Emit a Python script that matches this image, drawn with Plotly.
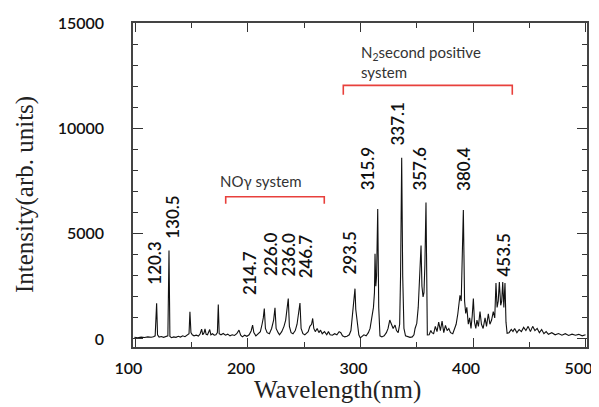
import plotly.graph_objects as go

# ---- spectrum data ----
wavelength = [
    99, 102, 105, 108, 111, 114, 116, 117.5, 118.8, 119.6,
    121, 123, 125, 127, 128.8, 129.8, 130.6, 132, 134, 136,
    138, 140, 142, 144, 146, 147.6, 148.4, 149.3, 150.5, 152,
    154, 156, 157.5, 158.8, 159.8, 161, 161.8, 162.8, 164, 165,
    166, 167, 168.5, 170, 171.5, 172.8, 173.6, 174.4, 176, 178,
    180, 182, 184, 186, 188, 190, 192, 193.5, 195, 197,
    199, 201, 202.8, 204.1, 205.2, 207, 209, 211, 212.5, 213.6,
    214.5, 215.5, 217, 219, 221, 222.8, 224.0, 225.0, 226.8, 228,
    230, 232, 233.5, 234.5, 235.8, 236.8, 238.3, 240, 242, 243.6,
    244.5, 245.5, 246.2, 247.2, 248.8, 250.5, 252, 253.5, 255, 256.5,
    257.5, 258.5, 259.8, 261.5, 263, 264.5, 266, 268, 270, 271.5,
    273, 275, 277, 279, 281, 282.5, 284, 286, 288, 290,
    291.5, 292.5, 293.3, 294, 295.1, 295.8, 296.6, 297.5, 298.5, 299.8,
    301, 303, 305, 307, 308.5, 309.5, 310.5, 311.5, 312.4, 312.9,
    313.6, 314.3, 315.3, 316.2, 317.3, 319, 321, 323, 324.5, 326,
    327.5, 329, 330.7, 332, 333.5, 334.8, 335.6, 336.6, 337.5, 338.6,
    340, 342, 344, 346, 347.5, 348.5, 350, 351.3, 352.2, 353,
    353.8, 354.6, 355.6, 356.4, 357.2, 358.2, 359.4, 361, 362.5, 363.5,
    365, 366.5, 368, 369.5, 371, 372.5, 374, 375.5, 377, 378.5,
    380, 382, 383.5, 385, 386.5, 387.5, 388.4, 389.5, 390.4, 391.4,
    392.5, 393.5, 394.5, 395.8, 397, 398.2, 399.3, 400.3, 401.3, 402.5,
    403.5, 404.8, 406.2, 407.5, 409, 410.7, 412, 413.6, 415, 416.5,
    418, 419.3, 420.4, 421.4, 422.4, 423.4, 424.6, 425.5, 426.4, 427.4,
    428.4, 429.3, 430.3, 432, 434, 435.5, 437, 439, 441, 443,
    445, 447, 449, 451, 453, 455, 457, 459, 461, 463,
    465, 467, 470, 473, 476, 479, 482, 485, 488, 491,
    494, 497, 500,
]
intensity = [
    80, 60, 90, 70, 100, 80, 110, 150, 1690, 200,
    90, 120, 80, 100, 150, 4200, 120, 60, 100, 80,
    130, 90, 150, 110, 170, 250, 1290, 300, 200, 150,
    180, 140, 250, 470, 200, 300, 480, 220, 200, 350,
    450, 200, 250, 180, 200, 300, 1640, 250, 200, 260,
    180, 230, 150, 200, 170, 250, 420, 180, 100, 180,
    130, 200, 380, 660, 300, 150, 250, 350, 700, 1000,
    1450, 500, 300, 250, 500, 900, 1480, 500, 300, 200,
    350, 600, 900, 1300, 1920, 600, 300, 250, 400, 700,
    1100, 1300, 1710, 500, 250, 200, 300, 350, 600, 700,
    975, 500, 350, 500, 300, 420, 250, 350, 200, 350,
    200, 180, 250, 200, 350, 300, 150, 100, 130, 200,
    400, 900, 1300, 1600, 2390, 1400, 1000, 500, 200, 50,
    100, 200, 150, 300, 500, 800, 1000, 1500, 2200, 4045,
    2500, 3000, 6170, 1500, 150, 100, 150, 300, 500, 900,
    700, 500, 660, 400, 300, 700, 3000, 8600, 3000, 500,
    150, 100, 80, 100, 200, 500, 740, 1500, 2500, 3500,
    4440, 2500, 2000, 2200, 3500, 6480, 190, 200, 400, 300,
    250, 600, 350, 800, 400, 850, 300, 650, 400, 500,
    300, 250, 500, 700, 1200, 1600, 2075, 1800, 3500, 6120,
    1800, 1210, 1500, 700, 1000, 500, 1100, 1920, 800, 500,
    900, 600, 1300, 700, 500, 1000, 600, 1200, 700, 900,
    1300, 1000, 2660, 1500, 1800, 2700, 1600, 1800, 2700, 1500,
    2660, 800, 270, 300, 450, 350, 500, 300, 450, 350,
    550, 400, 600, 350, 600, 400, 500, 300, 450, 250,
    350, 220, 300, 200, 260, 180, 250, 170, 230, 180,
    220, 150, 200,
]

# ---- peak labels ----
peak_labels = ["120.3", "130.5", "214.7", "226.0", "236.0", "246.7",
               "293.5", "315.9", "337.1", "357.6", "380.4", "453.5"]
peak_label_x = [116.7, 132.2, 201.8, 220.2, 235.8, 250.7,
                290.7, 306.0, 332.7, 352.9, 391.4, 427.0]
peak_label_y = [2470, 4670, 2000, 2880, 2880, 2785,
                2940, 6950, 9080, 6950, 6950, 2865]

# ---- band systems (wavelength extent of bracket) ----
noy_range = [180.2, 267.8]
n2_range = [284.7, 434.9]

x_ticks = [100, 200, 300, 400, 500]
y_ticks = [0, 5000, 10000, 15000]

fig = go.Figure()
fig.add_trace(go.Scatter(x=wavelength, y=intensity, mode="lines",
                         line=dict(color="#111111", width=1.1),
                         showlegend=False, hoverinfo="skip"))

red = "#e8403c"
for rng, ytop, ybot in [(noy_range, 6750, 6420), (n2_range, 12040, 11600)]:
    fig.add_trace(go.Scatter(x=[rng[0], rng[0], rng[1], rng[1]],
                             y=[ybot, ytop, ytop, ybot], mode="lines",
                             line=dict(color=red, width=1.6),
                             showlegend=False, hoverinfo="skip"))

lab_font = dict(family="Lato, Open Sans, sans-serif", size=17, color="#111111",
                weight=600)
for t, x, y in zip(peak_labels, peak_label_x, peak_label_y):
    fig.add_annotation(x=x, y=y, text=t, textangle=-90, showarrow=False,
                       xanchor="center", yanchor="bottom", font=lab_font)

sys_font = dict(family="Lato, Open Sans, sans-serif", size=15, color="#333333")
fig.add_annotation(x=211.6, y=7505, text="NO\u03b3 system", showarrow=False,
                   xanchor="center", yanchor="middle", font=sys_font)
fig.add_annotation(x=298.7, y=13135, text="N<sub>2</sub>second positive<br>system",
                   showarrow=False, xanchor="left", yanchor="middle", align="left",
                   font=sys_font)

title_font = dict(family="Liberation Serif, Times New Roman, serif", size=25, color="#222222")
fig.add_annotation(xref="paper", yref="paper", x=0.450, y=-0.133,
                   text="Wavelength(nm)", showarrow=False,
                   xanchor="center", yanchor="middle", font=title_font)
fig.add_annotation(xref="paper", yref="paper", x=-0.238, y=0.472,
                   text="Intensity(arb. units)", textangle=-90, showarrow=False,
                   xanchor="center", yanchor="middle", font=title_font)

tick_font = dict(family="Lato, Open Sans, sans-serif", size=16, color="#111111",
                 weight=600)
fig.update_xaxes(range=[97.8, 501.3], tickvals=x_ticks, ticks="inside", ticklen=9,
                 tickwidth=1.2, tickcolor="#333", showline=True, linecolor="#444",
                 linewidth=1.5, mirror="ticks", showgrid=False, zeroline=False,
                 automargin=False, tickformat="d",
                 tickfont=tick_font, ticklabelstandoff=6, ticklabelshift=-7,
                 minor=dict(dtick=50, tick0=0, ticks="inside", ticklen=5,
                            tickcolor="#333", showgrid=False))
fig.update_yaxes(range=[-380, 15000], tickvals=y_ticks, ticks="inside", ticklen=10,
                 tickwidth=1.2, tickcolor="#333", showline=True, linecolor="#444",
                 linewidth=1.5, mirror="ticks", showgrid=False, zeroline=False,
                 automargin=False, tickformat="d",
                 tickfont=tick_font, ticklabelstandoff=24,
                 minor=dict(dtick=1000, tick0=0, ticks="inside", ticklen=5,
                            tickcolor="#333", showgrid=False))

# the page body adds an 8px offset, so the figure is 8px smaller and margins shifted
fig.update_layout(width=591, height=399,
                  margin=dict(l=125, r=12, t=15, b=60),
                  paper_bgcolor="white", plot_bgcolor="white")

fig.write_html("out.html")
